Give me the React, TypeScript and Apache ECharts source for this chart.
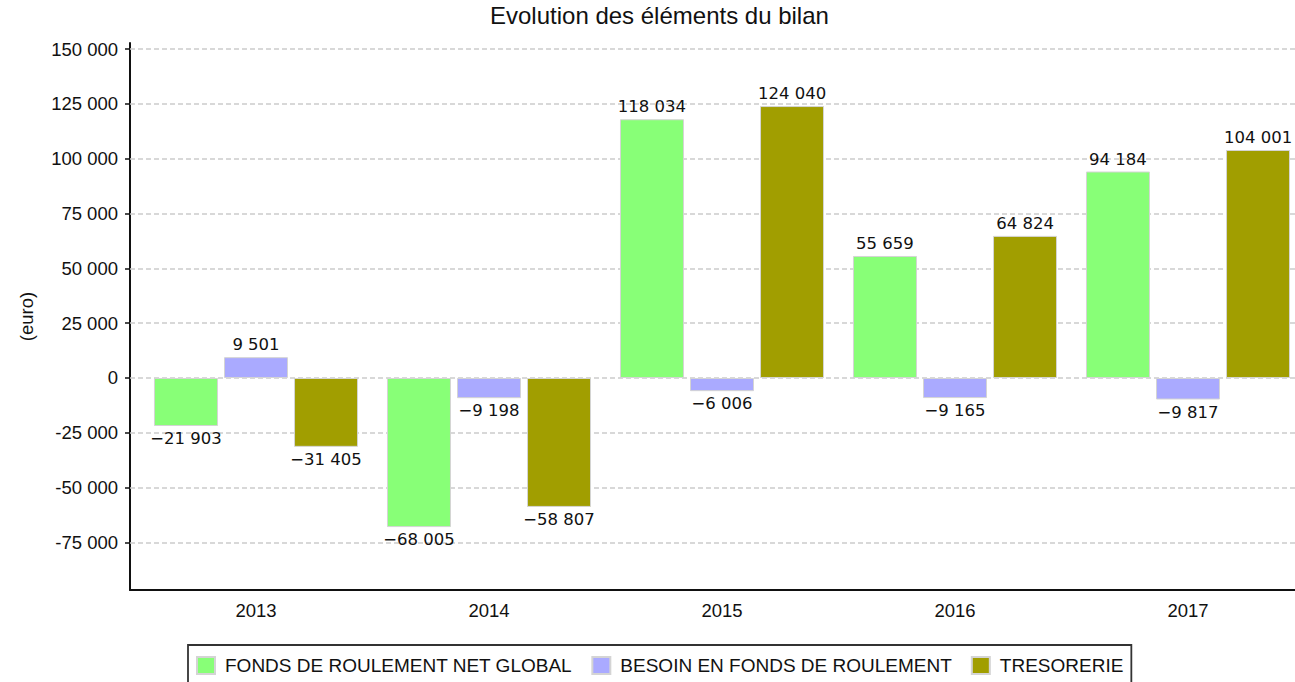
import React, { useEffect, useRef } from "react";
import * as echarts from "echarts";

const categories = ["2013", "2014", "2015", "2016", "2017"];
const fondsRoulement = [-21903, -68005, 118034, 55659, 94184];
const besoinFonds = [9501, -9198, -6006, -9165, -9817];
const tresorerie = [-31405, -58807, 124040, 64824, 104001];
const yTicks = [-75000, -50000, -25000, 0, 25000, 50000, 75000, 100000, 125000, 150000];
const seriesNames = [
  "FONDS DE ROULEMENT NET GLOBAL",
  "BESOIN EN FONDS DE ROULEMENT",
  "TRESORERIE",
];
const Y_MIN = -96700;
const Y_MAX = 152800;

const colors = ["#88FF77", "#AAAAFF", "#A19E00"];

function groupDigits(v: number): string {
  return Math.abs(v)
    .toString()
    .replace(/\B(?=(\d{3})+(?!\d))/g, " ");
}
function fmtBar(v: number): string {
  return (v < 0 ? "\u2212" : "") + groupDigits(v);
}
function fmtAxis(v: number): string {
  return (v < 0 ? "-" : "") + groupDigits(v);
}

const SANS = "'Liberation Sans', Arial, sans-serif";

export default function App() {
  const ref = useRef<HTMLDivElement>(null);
  useEffect(() => {
    if (!ref.current) return;
    const chart = echarts.init(ref.current, undefined, { renderer: "svg" });
    const mkBar = (name: string, values: number[], color: string) => ({
      name,
      type: "bar",
      xAxisIndex: 0,
      yAxisIndex: 0,
      barWidth: 64,
      barGap: "9.4%",
      z: 3,
      itemStyle: { color, borderColor: "#d4d4d4", borderWidth: 1 },
      label: {
        show: true,
        distance: 4,
        color: "#111",
        fontFamily: "'DejaVu Sans', sans-serif",
        fontSize: 16.5,
        formatter: (p: any) => fmtBar(p.value),
      },
      data: values.map((v) => ({
        value: v,
        label: { position: v < 0 ? "bottom" : "top" },
      })),
    });
    chart.setOption({
      animation: false,
      backgroundColor: "#ffffff",
      title: {
        text: "Evolution des éléments du bilan",
        left: 490,
        top: 3,
        padding: 0,
        textStyle: {
          fontFamily: SANS,
          fontSize: 24,
          fontWeight: "normal",
          color: "#111",
        },
      },
      legend: {
        data: seriesNames,
        left: 188,
        top: 645,
        padding: [11, 8, 24, 8],
        itemWidth: 18,
        itemHeight: 17,
        itemGap: 19,
        borderColor: "#333",
        borderWidth: 1.8,
        icon: "rect",
        selectedMode: false,
        textStyle: {
          fontFamily: SANS,
          fontSize: 19,
          color: "#111",
          padding: [0, 0, 0, 5],
        },
      },
      grid: [
        {
          left: 139.5,
          width: 1165,
          top: 43,
          bottom: 92,
          outerBoundsMode: "none",
          containLabel: false,
        },
        {
          left: 130,
          right: -5,
          top: 43,
          bottom: 92,
          outerBoundsMode: "none",
          containLabel: false,
        },
      ],
      xAxis: [
        {
          type: "category",
          gridIndex: 0,
          data: categories,
          axisLine: { show: false },
          axisTick: { show: false },
          axisLabel: {
            margin: 11,
            fontFamily: SANS,
            fontSize: 18.5,
            color: "#111",
          },
        },
        {
          type: "value",
          gridIndex: 1,
          min: 0,
          max: 1,
          axisLine: {
            show: true,
            onZero: false,
            lineStyle: { color: "#111", width: 2 },
          },
          axisTick: { show: false },
          axisLabel: { show: false },
          splitLine: { show: false },
        },
      ],
      yAxis: [
        {
          type: "value",
          gridIndex: 0,
          min: Y_MIN,
          max: Y_MAX,
          show: false,
        },
        {
          type: "value",
          gridIndex: 1,
          min: Y_MIN,
          max: Y_MAX,
          name: "(euro)",
          nameLocation: "middle",
          nameGap: 94,
          nameTextStyle: { fontFamily: SANS, fontSize: 18.5, color: "#111" },
          axisLine: {
            show: true,
            onZero: false,
            lineStyle: { color: "#111", width: 2 },
          },
          axisTick: {
            show: true,
            customValues: yTicks,
            length: 5,
            lineStyle: { color: "#111", width: 1.5 },
          },
          axisLabel: {
            customValues: yTicks,
            margin: 12,
            fontFamily: SANS,
            fontSize: 18.5,
            color: "#111",
            formatter: (v: number) => fmtAxis(v),
          },
          splitLine: { show: false },
        },
      ],
      series: [
        {
          type: "line",
          xAxisIndex: 1,
          yAxisIndex: 1,
          data: [],
          z: 1,
          silent: true,
          markLine: {
            silent: true,
            symbol: ["none", "none"],
            label: { show: false },
            z: 1,
            lineStyle: { color: "#cccccc", width: 1.5, type: [5, 3] },
            data: yTicks.map((v) => ({ yAxis: v })),
          },
        },
        mkBar(seriesNames[0], fondsRoulement, colors[0]),
        mkBar(seriesNames[1], besoinFonds, colors[1]),
        mkBar(seriesNames[2], tresorerie, colors[2]),
      ],
    });
    return () => chart.dispose();
  }, []);
  return (
    <div
      ref={ref}
      style={{ position: "absolute", left: 0, top: 0, width: 1295, height: 682 }}
    />
  );
}
